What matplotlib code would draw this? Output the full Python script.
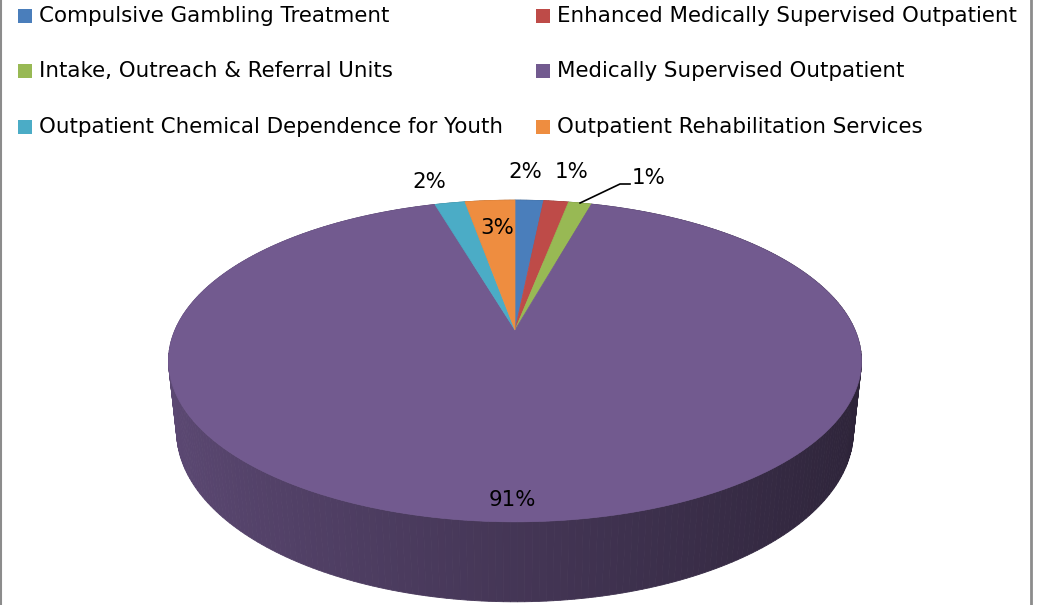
import numpy as np
import matplotlib.pyplot as plt
from matplotlib.patches import Polygon, Rectangle

# data (shares in percent, clockwise from 12 o'clock)
categories = ['Compulsive Gambling Treatment',
              'Enhanced Medically Supervised Outpatient',
              'Intake, Outreach & Referral Units',
              'Medically Supervised Outpatient',
              'Outpatient Chemical Dependence for Youth',
              'Outpatient Rehabilitation Services']
shares = [1.6, 1.4, 1.3, 91.2, 1.7, 2.8]
colors = ['#4A7EBB', '#BE4B48', '#98B954', '#725A8F', '#4BACC6', '#EE8D40']

# label placement (pixel coords of the figure)
label_pos = [(525, 172), (572, 172), (649, 178), (512, 500), (429, 182), (497, 228)]

# fake 3d camera
CX, CY = 515, 330      # apex of the pie on screen
S = 340                # screen scale
D = 4.62               # camera distance
ELEV = np.radians(27.1)
THICK = 0.234
se, ce = np.sin(ELEV), np.cos(ELEV)


def project(u, v, h):
    yc = v * se + h * ce
    zc = D + v * ce - h * se
    return CX + S * D * u / zc, CY - S * D * yc / zc, zc


def shade(c, u):
    f = 0.6 - 0.21 * u
    rgb = np.array(plt.matplotlib.colors.to_rgb(c))
    return tuple(np.clip(rgb * f, 0, 1))


fig = plt.figure(figsize=(10.45, 6.05), dpi=100)
ax = fig.add_axes([0, 0, 1, 1])
ax.set_xlim(0, 1045)
ax.set_ylim(605, 0)
ax.axis('off')

frac = np.array(shares) / np.sum(shares)
edges = np.concatenate([[0], np.cumsum(frac)])
ang = np.pi / 2 - 2 * np.pi * edges   # clockwise from top

# side walls, far strips first
strips = []
for i in range(len(shares)):
    n = max(3, int(abs(ang[i + 1] - ang[i]) / np.radians(1.0)))
    phi = np.linspace(ang[i], ang[i + 1], n + 1)
    for a0, a1 in zip(phi[:-1], phi[1:]):
        u0, v0, u1, v1 = np.cos(a0), np.sin(a0), np.cos(a1), np.sin(a1)
        p = [project(u0, v0, 0), project(u1, v1, 0),
             project(u1, v1, -THICK), project(u0, v0, -THICK)]
        depth = project((u0 + u1) / 2, (v0 + v1) / 2, 0)[2]
        strips.append((depth, [(q[0], q[1]) for q in p], shade(colors[i], (u0 + u1) / 2)))
strips.sort(key=lambda s: -s[0])
for depth, pts, col in strips:
    ax.add_patch(Polygon(pts, closed=True, facecolor=col, edgecolor=col, lw=0.6))

# top face
for i in range(len(shares)):
    phi = np.linspace(ang[i], ang[i + 1], 200)
    x, y, _ = project(np.cos(phi), np.sin(phi), 0)
    pts = [(CX, CY)] + list(zip(x, y))
    ax.add_patch(Polygon(pts, closed=True, facecolor=colors[i], edgecolor=colors[i], lw=0.5))

# data labels
for i, (lx, ly) in enumerate(label_pos):
    ax.text(lx, ly, f'{round(shares[i])}%', fontsize=15.4, ha='center', va='center',
            color='black', family='DejaVu Sans')

# leader line for the green slice
mid = (ang[2] + ang[3]) / 2
x0, y0, _ = project(np.cos(mid), np.sin(mid), 0)
ax.plot([x0, 620, 630], [y0, 184, 184], color='black', lw=1.2)

# legend, two columns
col_x = [18, 536]
row_y = [16, 71, 127]
for k in range(len(categories)):
    cx = col_x[k % 2]
    cy = row_y[k // 2]
    ax.add_patch(Rectangle((cx, cy - 7), 14, 14, facecolor=colors[k], edgecolor='none'))
    ax.text(cx + 21, cy, categories[k], fontsize=15.4, ha='left', va='center',
            color='black', family='DejaVu Sans')

# chart border (left and right visible)
ax.plot([1, 1], [0, 605], color='#8C8C8C', lw=1.5)
ax.plot([1031, 1031], [0, 605], color='#8C8C8C', lw=2)

fig.savefig('out.png', dpi=100)
